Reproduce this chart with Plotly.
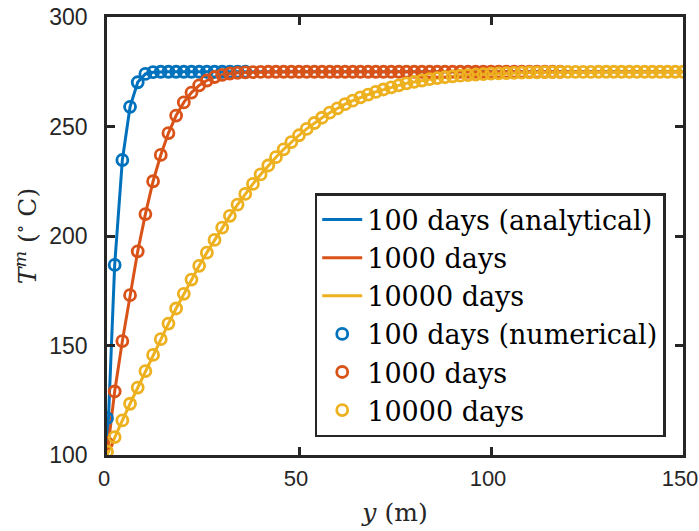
import plotly.graph_objects as go

# depth below the surface (m); numerical nodes every 2 m
depth = list(range(0, 152, 2))

# numerical temperature profiles (deg C)
t100_num = [116.8, 186.8, 234.7, 259.0, 270.2, 274.0, 274.8, 275.0, 275.0, 275.0,
            275.0, 275.0, 275.0, 275.0, 275.0, 275.0, 275.0, 275.0, 275.0]
t1000_num = [105.5, 129.0, 152.0, 173.0, 193.0, 210.0, 225.0, 237.0, 247.0, 255.0,
             261.0, 265.5, 268.8, 271.0, 272.6, 273.6, 274.2, 274.5, 274.7, 274.8,
             274.9, 275.0, 275.0, 275.0, 275.0, 275.0, 275.0, 275.0, 275.0, 275.0,
             275.0, 275.0, 275.0, 275.0, 275.0, 275.0, 275.0, 275.0, 275.0, 275.0,
             275.0, 275.0, 275.0, 275.0, 275.0, 275.0, 275.0, 275.0, 275.0, 275.0,
             275.0, 275.0, 275.0, 275.0, 275.0, 275.0, 275.0, 275.0, 275.0, 275.0]
t10000_num = [101.5, 108.2, 115.8, 123.4, 130.8, 138.3, 145.7, 152.9, 160.0, 166.9,
              173.6, 180.1, 186.4, 192.4, 198.2, 203.8, 209.2, 214.3, 219.2, 223.8,
              228.1, 232.2, 236.0, 239.6, 242.9, 246.0, 248.9, 251.6, 254.0, 256.3,
              258.3, 260.2, 261.8, 263.3, 264.6, 265.8, 266.9, 267.9, 268.8, 269.7,
              270.4, 271.0, 271.6, 272.1, 272.5, 272.9, 273.2, 273.5, 273.7, 273.9,
              274.1, 274.3, 274.4, 274.5, 274.6, 274.7, 274.7, 274.8, 274.8, 274.9,
              274.9, 274.9, 274.9, 274.9, 275.0, 275.0, 275.0, 275.0, 275.0, 275.0,
              275.0, 275.0, 275.0, 275.0, 275.0, 275.0]

# analytical profiles on the same 2 m grid, fixed surface temperature 100
t100_ana = [100.0, 186.8, 234.7, 259.0, 270.2, 274.0, 274.8] + [275.0] * 69
t1000_ana = [100.0, 129.0, 152.0, 173.0, 193.0, 210.0, 225.0, 237.0, 247.0, 255.0,
             261.0, 265.5, 268.8, 271.0, 272.6, 273.6, 274.2, 274.5, 274.7, 274.8,
             274.9] + [275.0] * 55
t10000_ana = [100.0] + t10000_num[1:]

line_names = ["100 days (analytical)", "1000 days", "10000 days"]
marker_names = ["100 days (numerical)", "1000 days", "10000 days"]
colors = ["#0072BD", "#D95319", "#EDB120"]

x_ticks = [0, 50, 100, 150]
y_ticks = [100, 150, 200, 250, 300]

INK = "#262626"
SERIF = "DejaVu Serif, serif"

fig = go.Figure()

for i, (name, vals, c) in enumerate(zip(line_names, [t100_ana, t1000_ana, t10000_ana], colors)):
    fig.add_trace(go.Scatter(
        x=depth, y=vals, mode="lines", name=name, legendgroup=f"l{i}",
        line=dict(color=c, width=3)))

for i, (name, vals, c) in enumerate(zip(marker_names, [t100_num, t1000_num, t10000_num], colors)):
    fig.add_trace(go.Scatter(
        x=depth[:len(vals)], y=vals, mode="markers", name=name, legendgroup=f"m{i}",
        marker=dict(symbol="circle-open", size=11, color=c,
                    line=dict(color=c, width=2.8))))

axis_common = dict(
    showgrid=False, zeroline=False, showline=True, mirror="ticks",
    linecolor=INK, linewidth=2.5, ticks="inside", ticklen=8,
    tickwidth=2.5, tickcolor=INK, automargin=False, ticklabeloverflow="allow")

fig.update_xaxes(range=[0, 150], tickvals=x_ticks, ticktext=[str(v) for v in x_ticks],
                 ticklabelstandoff=2, ticklabelshift=-3,
                 tickfont=dict(family="Liberation Sans, Arial", size=22, color=INK),
                 title=dict(text="<i>y</i> (m)", standoff=14,
                            font=dict(family=SERIF, size=25, color=INK)),
                 **axis_common)
fig.update_yaxes(range=[100, 300], tickvals=y_ticks, ticktext=[str(v) for v in y_ticks],
                 ticklabelstandoff=12,
                 tickfont=dict(family="Liberation Sans, Arial", size=23, color=INK),
                 title=dict(text="<i>T</i><sup><i>m</i></sup> (<sup>∘</sup> C)", standoff=6,
                            font=dict(family=SERIF, size=25, color=INK)),
                 **axis_common)

fig.update_layout(
    width=699, height=531,
    margin=dict(l=107, r=16, t=17, b=76),
    paper_bgcolor="white", plot_bgcolor="white",
    showlegend=True,
    legend=dict(x=0.97, y=0.041, xanchor="right", yanchor="bottom",
                bgcolor="white", bordercolor=INK, borderwidth=2.5,
                font=dict(family=SERIF, size=27, color="black"),
                tracegroupgap=0, itemwidth=40),
)

fig.write_html("out.html")
